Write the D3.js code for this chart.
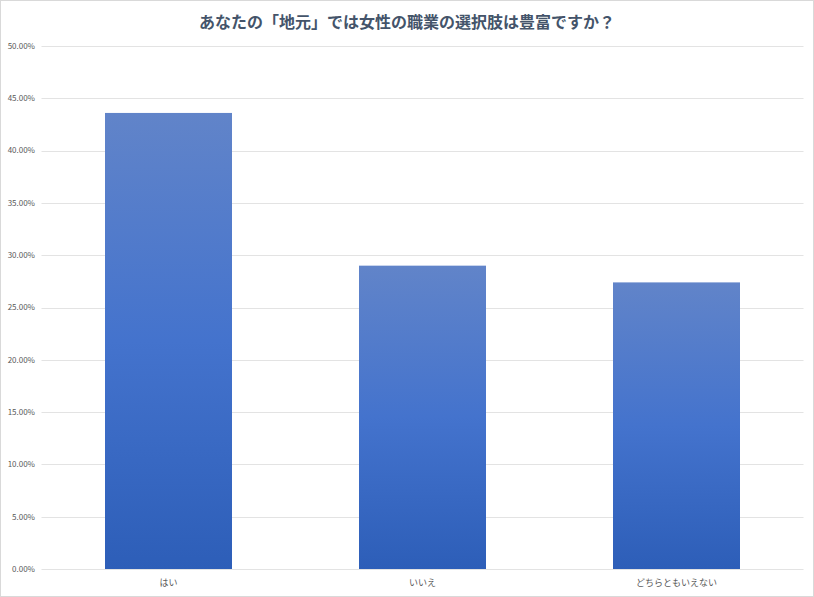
<!DOCTYPE html>
<html><head><meta charset="utf-8">
<script src="https://cdn.jsdelivr.net/npm/d3@7"></script>
<style>
html,body{margin:0;padding:0;background:#fff;}
svg{display:block;}
</style></head>
<body>
<svg id="c" width="814" height="597"></svg>
<script>
const title = "あなたの「地元」では女性の職業の選択肢は豊富ですか？";
const categories = ["はい", "いいえ", "どちらともいえない"];
const values = [0.436, 0.290, 0.274];
const yTicks = [0, 0.05, 0.10, 0.15, 0.20, 0.25, 0.30, 0.35, 0.40, 0.45, 0.50];

const W = 814, H = 597;
const m = {left: 41.5, right: 10.5, top: 46, bottom: 28};
const svg = d3.select("#c");
const font = "'Noto Sans CJK JP','Noto Sans',sans-serif";

svg.append("rect").attr("x",0.5).attr("y",0.5).attr("width",W-1).attr("height",H-1)
  .attr("fill","#fff").attr("stroke","#d9d9d9");

const defs = svg.append("defs");
const g1 = defs.append("linearGradient").attr("id","barGrad").attr("x1",0).attr("y1",0).attr("x2",0).attr("y2",1);
g1.append("stop").attr("offset","0%").attr("stop-color","#6184c9");
g1.append("stop").attr("offset","50%").attr("stop-color","#4473cd");
g1.append("stop").attr("offset","100%").attr("stop-color","#2d5eb8");

const x = d3.scaleBand().domain(categories).range([m.left, W - m.right]).paddingInner(0.5).paddingOuter(0.25);
const y = d3.scaleLinear().domain([0, 0.5]).range([H - m.bottom, m.top]);

// gridlines
svg.append("g").selectAll("line").data(yTicks).join("line")
  .attr("x1", m.left).attr("x2", W - m.right)
  .attr("y1", d => Math.round(y(d)) + 0.5).attr("y2", d => Math.round(y(d)) + 0.5)
  .attr("stroke", "#e3e3e3").attr("stroke-width", 1);

// y labels
svg.append("g").selectAll("text").data(yTicks).join("text")
  .attr("x", 35).attr("y", d => y(d)).attr("dy", "0.35em")
  .attr("text-anchor", "end").attr("font-family", font).attr("font-size", 8)
  .attr("fill", "#595959").text(d => d3.format(".2%")(d));

// bars
svg.append("g").selectAll("rect").data(values).join("rect")
  .attr("x", (d,i) => x(categories[i])).attr("width", x.bandwidth())
  .attr("y", d => y(d)).attr("height", d => y(0) - y(d))
  .attr("fill", "url(#barGrad)");

// x labels
svg.append("g").selectAll("text").data(categories).join("text")
  .attr("x", d => x(d) + x.bandwidth()/2).attr("y", H - m.bottom + 17)
  .attr("text-anchor", "middle").attr("font-family", font).attr("font-size", 9)
  .attr("fill", "#595959").text(d => d);

// title
svg.append("text").attr("x", W/2).attr("y", 28).attr("text-anchor","middle")
  .attr("font-family", font).attr("font-size", 16).attr("font-weight", "bold")
  .attr("fill", "#44546a").text(title);
</script>
</body></html>
